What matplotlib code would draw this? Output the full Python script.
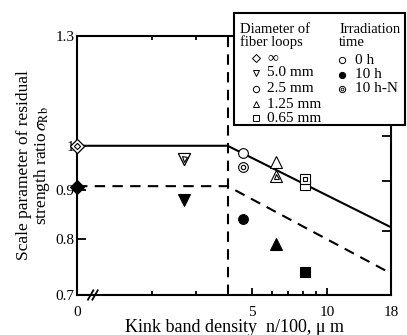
import numpy as np
import matplotlib
matplotlib.use('Agg')
import matplotlib.pyplot as plt
from matplotlib.lines import Line2D
from matplotlib.patches import Rectangle

plt.rcParams['font.family'] = 'Liberation Serif'
plt.rcParams['mathtext.fontset'] = 'stix'
plt.rcParams['font.size'] = 10

# x = 1 stands for "0" on the broken log axis
loop_labels = ['\u221e', '5.0 mm', '2.5 mm', '1.25 mm', '0.65 mm']
loop_markers = ['D', 'v', 'o', '^', 's']
kink_density = [1.0, 2.67, 4.63, 6.24, 8.19]
sigma_0h = [1.0, 0.970, 0.982, 0.962, 0.910]
sigma_10h = [0.907, 0.878, 0.840, 0.791, 0.739]
sigma_10hN = [1.0, 0.968, 0.951, 0.930, 0.923]
time_labels = ['0 h', '10 h', '10 h-N']

fit_x = [1, 4, 18]
fit_0h = [1.0, 1.0, 0.823]
fit_10h = [0.908, 0.908, 0.737]
kink_limit = 4

xticks = [1, 5, 10, 18]
xticklabels = ['0', '5', '10', '18']
xminor = [2, 3, 4, 6, 7, 8, 9]
yticks = [0.7, 0.8, 0.9, 1.0, 1.3]
yticklabels = ['0.7', '0.8', '0.9', '1', '1.3']
yticks_right = [0.815, 0.92, 1.023]

W, H = 407, 335
fig = plt.figure(figsize=(W / 100, H / 100), dpi=100)
ax = fig.add_axes([77 / W, 1 - 295 / H, 314 / W, 259 / H])

ax.set_xscale('log')
ax.set_yscale('log')
ax.set_xlim(1, 18)
ax.set_ylim(0.7, 1.3)

# fitted lines
ax.plot(fit_x, fit_0h, color='black', lw=1.5, zorder=2)
ax.plot(fit_x, fit_10h, color='black', lw=1.5, ls=(0, (5, 3.5)), zorder=2)
ax.axvline(kink_limit, color='black', lw=1.5, ls=(0, (5, 3.5)), zorder=2)

sizes = {'D': 7, 'v': 8, 'o': 7, '^': 8, 's': 7}
for x, y0, y1, yn, m in zip(kink_density, sigma_0h, sigma_10h, sigma_10hN, loop_markers):
    ms = sizes[m]
    kw = dict(ls='none', mec='black', mew=0.8, clip_on=False, zorder=4)
    ax.plot(x, y0, m, ms=ms, mfc='white', **kw)
    ax.plot(x, y1, m, ms=ms, mfc='black', **kw)
    ax.plot(x, yn, m, ms=ms, mfc='white', **kw)
    ax.plot(x, yn, m, ms=ms * 0.45, mfc='white', **kw)

ax.set_xticks(xticks)
ax.set_xticklabels(xticklabels)
ax.set_xticks(xminor, minor=True)
ax.xaxis.set_minor_formatter(matplotlib.ticker.NullFormatter())
ax.set_yticks(yticks)
ax.set_yticklabels(yticklabels)
ax.yaxis.set_minor_locator(matplotlib.ticker.NullLocator())

ax.tick_params(axis='x', which='major', direction='in', length=5, width=1.3,
               top=True, labelsize=11, pad=8)
ax.tick_params(axis='x', which='minor', direction='in', length=3, width=1.3, top=True)
ax.tick_params(axis='y', direction='in', length=6.5, width=1.3, labelsize=11, pad=2)
for s in ax.spines.values():
    s.set_linewidth(1.5)

axr = ax.twinx()
axr.set_yscale('log')
axr.set_ylim(0.7, 1.3)
axr.set_yticks(yticks_right)
axr.yaxis.set_minor_locator(matplotlib.ticker.NullLocator())
axr.tick_params(axis='y', direction='in', length=6.5, width=1.3, labelright=False)
for s in axr.spines.values():
    s.set_visible(False)

# axis break mark
for dx in (0, 0.014):
    ax.plot([0.035 + dx, 0.052 + dx], [-0.018, 0.018], color='black', lw=1.3,
            transform=ax.transAxes, clip_on=False)

ax.set_xlabel('Kink band density  n/100, \u03bc m', fontsize=13, labelpad=0)
ax.set_ylabel('Scale parameter of residual\nstrength ratio$\\,\\sigma_{\\mathrm{Rb}}$',
              fontsize=12.5, labelpad=2, linespacing=1.0)

# legend box drawn by hand (two titled columns)
def fx(px):
    return px / W

def fy(py):
    return 1 - py / H

fig.add_artist(Rectangle((fx(234), fy(125)), fx(405) - fx(234), (125 - 13) / H,
                         transform=fig.transFigure, facecolor='white',
                         edgecolor='black', lw=1.5, zorder=10))
fig.text(fx(240), fy(36), 'Diameter of\nfiber loops', fontsize=10.5,
         va='center', linespacing=1.0, zorder=11)
fig.text(fx(339), fy(36), 'Irradiation\ntime', fontsize=10.5,
         va='center', linespacing=1.0, zorder=11)

rows = [58, 73, 89, 104, 118]
for py, m, lab in zip(rows, loop_markers, loop_labels):
    fig.add_artist(Line2D([fx(256)], [fy(py)], marker=m, ms=4.5, mfc='white',
                          mec='black', mew=0.7, transform=fig.transFigure, zorder=11))
    fig.text(fx(267), fy(py), lab, fontsize=11, va='center', zorder=11)

rows2 = [60, 75, 89]
for i, (py, lab) in enumerate(zip(rows2, time_labels)):
    face = 'black' if i == 1 else 'white'
    fig.add_artist(Line2D([fx(342)], [fy(py)], marker='o', ms=4.5, mfc=face,
                          mec='black', mew=0.7, transform=fig.transFigure, zorder=11))
    if i == 2:
        fig.add_artist(Line2D([fx(342)], [fy(py)], marker='o', ms=2, mfc='white',
                              mec='black', mew=0.6, transform=fig.transFigure, zorder=12))
    fig.text(fx(355), fy(py), lab, fontsize=11, va='center', zorder=11)

fig.savefig('out.png', dpi=100)
